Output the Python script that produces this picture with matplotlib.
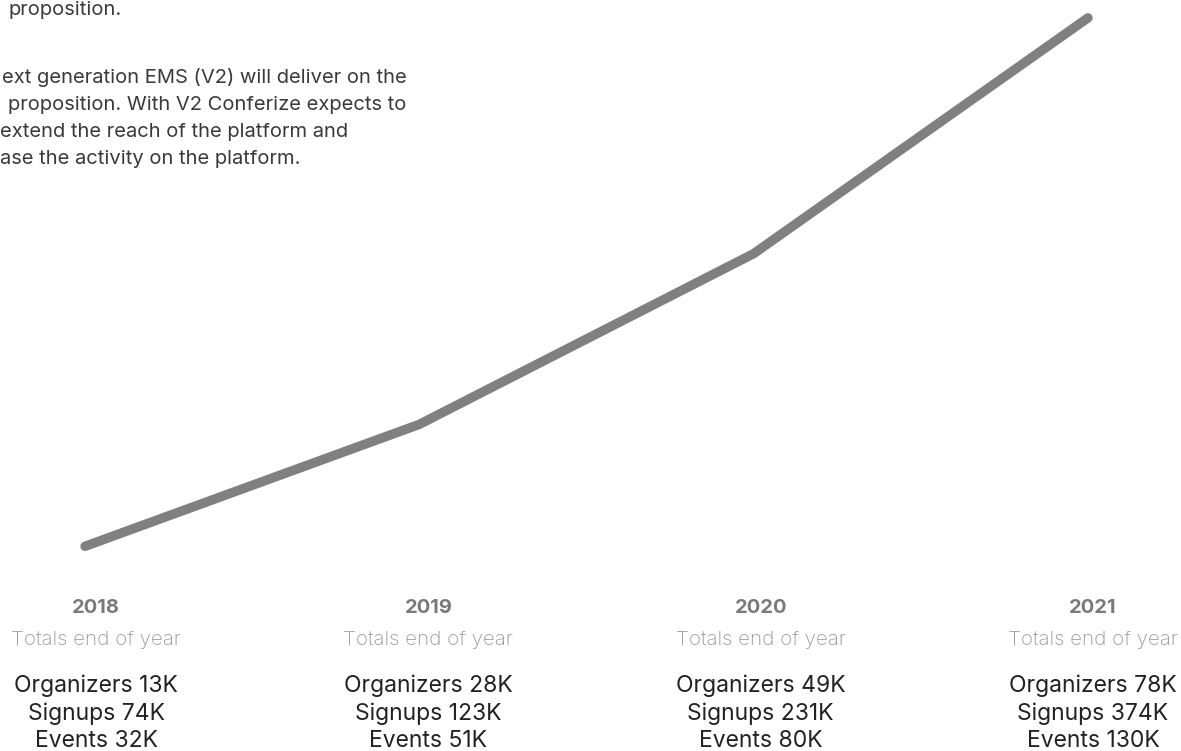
import matplotlib
matplotlib.use("Agg")
import matplotlib.pyplot as plt

years = ["2018", "2019", "2020", "2021"]
organizers = [13, 28, 49, 78]
signups = [74, 123, 231, 374]
events = [32, 51, 80, 130]
subtitle = "Totals end of year"
paragraph = [
    ("proposition.", 8, 15),
    ("ext generation EMS (V2) will deliver on the", 2, 83),
    ("proposition. With V2 Conferize expects to", 8, 110),
    ("extend the reach of the platform and", 0, 137),
    ("ase the activity on the platform.", 0, 164),
]

FAM = ["Inter", "DejaVu Sans"]
W, H = 1181, 751
fig = plt.figure(figsize=(W / 100, H / 100), dpi=100)
fig.patch.set_facecolor("white")

x0, x1 = 85, 1088
ax = fig.add_axes([x0 / W, 0, (x1 - x0) / W, 1])
ax.set_xlim(0, 3)
ypx_zero = 652
scale = 8.13
ax.set_ylim((ypx_zero - H) / scale, ypx_zero / scale)
ax.axis("off")
xs = list(range(len(years)))
ax.plot(xs, organizers, color="#808080", lw=6.8, solid_capstyle="round",
        solid_joinstyle="round", clip_on=False)

tr = ax.get_xaxis_transform()


def fy(py):
    return 1 - py / H


for i, yr in enumerate(years):
    xl = xs[i] * 0.994 + 0.033
    ax.text(xl, fy(613), yr, transform=tr, ha="center", va="baseline",
            fontsize=14.5, fontweight="bold", color="#7a7a7a", family=FAM)
    ax.text(xl, fy(645), subtitle, transform=tr, ha="center", va="baseline",
            fontsize=14.8, fontweight="light", color="#999999", family=FAM)
    ax.text(xl, fy(692), f"Organizers {organizers[i]}K", transform=tr,
            ha="center", va="baseline", fontsize=16.5, color="#222222", family=FAM)
    ax.text(xl, fy(720), f"Signups {signups[i]}K", transform=tr,
            ha="center", va="baseline", fontsize=16.5, color="#222222", family=FAM)
    ax.text(xl, fy(747), f"Events {events[i]}K", transform=tr,
            ha="center", va="baseline", fontsize=16.5, color="#222222", family=FAM)

for txt, px, py in paragraph:
    fig.text(px / W, 1 - py / H, txt, ha="left", va="baseline", fontsize=14.5,
             color="#3a3a3a", family=FAM)

fig.savefig("out.png", dpi=100, facecolor="white")
